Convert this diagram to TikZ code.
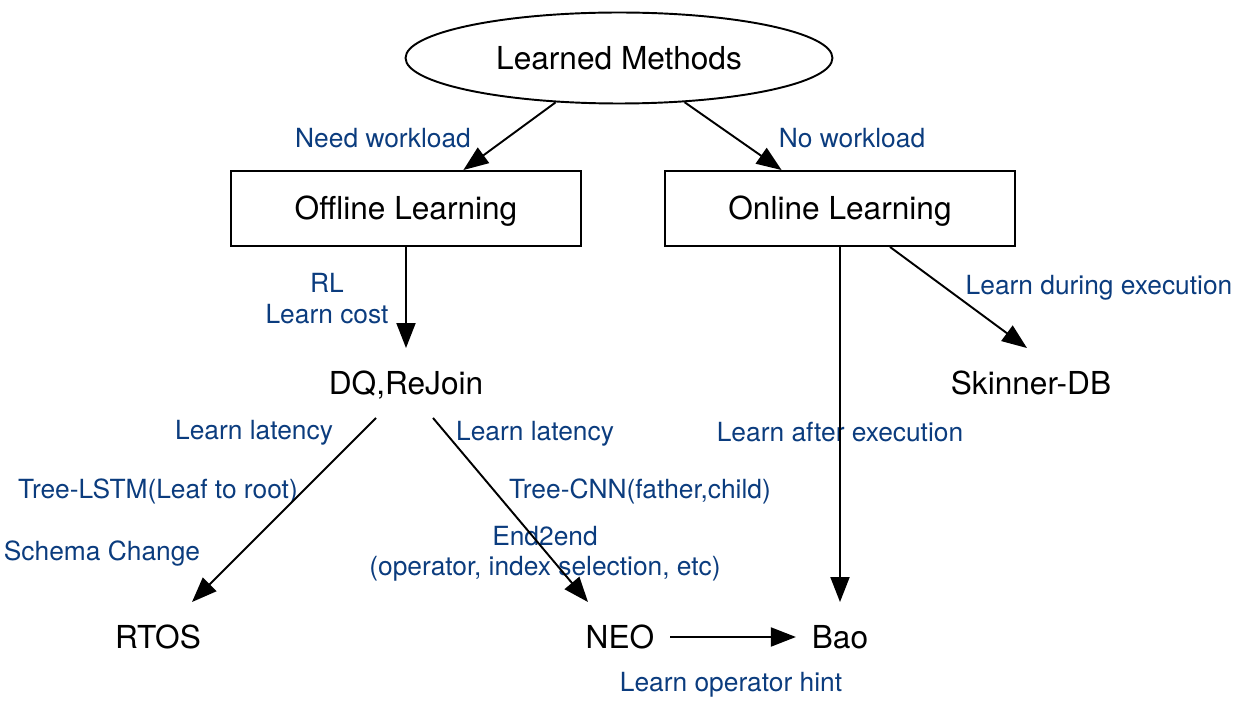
\documentclass[tikz,border=0pt]{standalone}
\usepackage{fontspec}
\setmainfont{TeX Gyre Heros}
\usepackage{xcolor}
\usetikzlibrary{arrows.meta, positioning, shapes.geometric, calc}
\definecolor{lblblue}{HTML}{0B3C7E}
\tikzset{
  blk/.style={line width=1.1pt, align=center, font=\fontsize{18}{21.6}\selectfont},
  ovalb/.style={blk, ellipse, draw, minimum width=8.54cm, minimum height=1.82cm, inner sep=0pt},
  boxb/.style={blk, rectangle, draw, minimum width=7cm, minimum height=1.5cm, text height=0.46cm, text depth=0pt},
  txtb/.style={blk, text height=0.46cm, text depth=0pt, minimum height=1.36cm, inner xsep=0.3cm},
  pipe/.style={-{Triangle[length=0.5cm, width=0.38cm]}, line width=1.1pt, draw=black},
  lbl/.style={font=\fontsize{15}{18}\selectfont, text=lblblue, inner sep=1pt, yshift=-0.05cm},
}
\begin{document}
\begin{tikzpicture}[x=0.02cm, y=-0.02cm]
  \useasboundingbox (0,0) rectangle (1248,709);
  \node[ovalb] (lm) at (619,58) {Learned Methods};
  \node[boxb] (off) at (406,208.5) {Offline Learning};
  \node[boxb] (on) at (840,208.5) {Online Learning};
  \node[txtb] (dq) at (406,383) {DQ,ReJoin};
  \node[txtb] (sk) at (1031,383) {Skinner-DB};
  \node[txtb] (rtos) at (158,637) {RTOS};
  \node[txtb] (neo) at (620,637) {NEO};
  \node[txtb] (bao) at (840,637) {Bao};
  % edge labels
  \node[lbl] (needwl) at (383,136) {Need workload};
  \node[lbl] (nowl) at (852,136) {No workload};
  \node[lbl] (rl) at (327,280) {RL};
  \node[lbl] (lcost) at (327,312) {Learn cost};
  \node[lbl] (lduring) at (1099,285) {Learn during execution};
  \node[lbl] (llatl) at (254,430) {Learn latency};
  \node[lbl] (llatr) at (535,431) {Learn latency};
  \node[lbl] (lafter) at (840,430) {Learn after execution};
  \node[lbl] (lstm) at (158,489) {Tree-LSTM(Leaf to root)};
  \node[lbl] (cnn) at (640,489) {Tree-CNN(father,child)};
  \node[lbl] (schema) at (102,551) {Schema Change};
  \node[lbl] (e2e) at (545,534) {End2end};
  \node[lbl] (opsel) at (545,566) {(operator, index selection, etc)};
  \node[lbl] (lhint) at (731,682) {Learn operator hint};
  \draw[pipe] (lm.215) -- ($(off.north west)!.663!(off.north east)$);
  \draw[pipe] (lm.326) -- ($(on.north west)!.334!(on.north east)$);
  \draw[pipe] (off) -- (dq);
  \draw[pipe] (on) -- (bao);
  \draw[pipe] ([xshift=1cm]on.south) -- ([xshift=-0.08cm]sk.north);
  \draw[pipe] ([xshift=-0.6cm]dq.south) -- ([xshift=0.68cm]rtos.north);
  \draw[pipe] ([xshift=0.54cm]dq.south) -- ([xshift=-0.64cm]neo.north);
  \draw[pipe] (neo) -- (bao);
\end{tikzpicture}
\end{document}
